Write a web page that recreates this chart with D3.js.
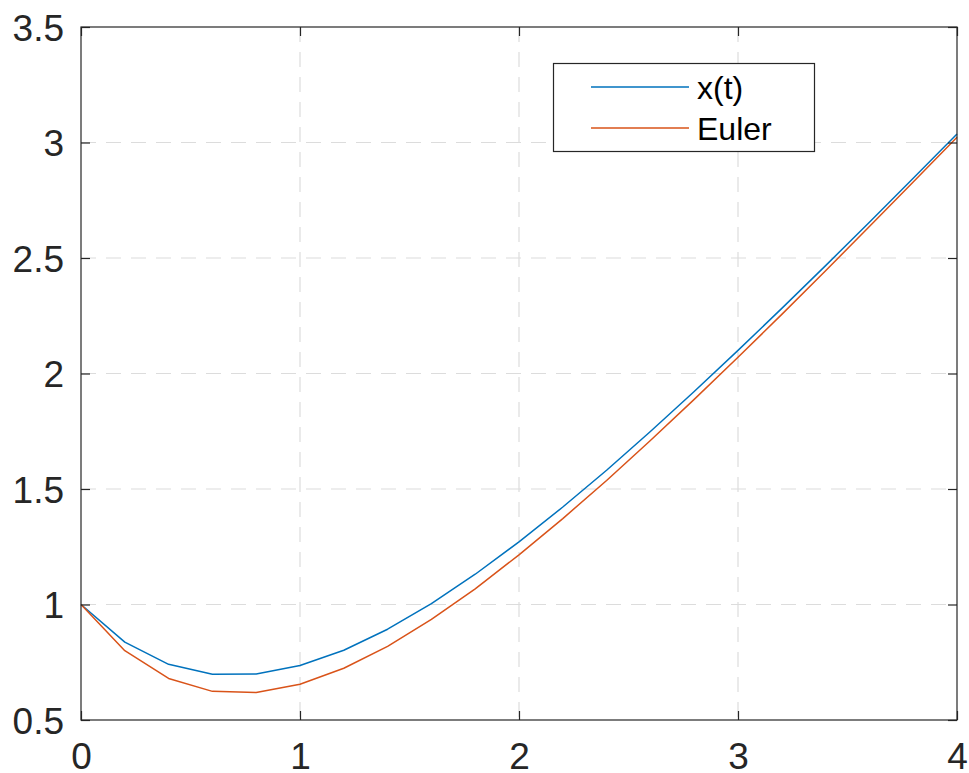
<!DOCTYPE html>
<html>
<head>
<meta charset="utf-8">
<script src="https://cdn.jsdelivr.net/npm/d3@7"></script>
<style>
  html, body { margin: 0; padding: 0; background: #fff; }
  svg { display: block; }
</style>
</head>
<body>
<svg id="chart" width="969" height="773"></svg>
<script>
// ---- data ----
const tValues = [0, 0.2, 0.4, 0.6, 0.8, 1.0, 1.2, 1.4, 1.6, 1.8, 2.0, 2.2, 2.4, 2.6, 2.8, 3.0, 3.2, 3.4, 3.6, 3.8, 4.0];
const exactValues = [1.000, 0.837, 0.741, 0.698, 0.699, 0.736, 0.802, 0.893, 1.004, 1.131, 1.271, 1.422, 1.581, 1.749, 1.922, 2.100, 2.282, 2.467, 2.655, 2.845, 3.037];
const eulerValues = [1.000, 0.800, 0.680, 0.624, 0.619, 0.655, 0.724, 0.819, 0.936, 1.068, 1.215, 1.372, 1.537, 1.710, 1.888, 2.070, 2.256, 2.445, 2.636, 2.829, 3.023];
const seriesNames = ["x(t)", "Euler"];
const xTicks = [0, 1, 2, 3, 4];
const yTicks = [0.5, 1, 1.5, 2, 2.5, 3, 3.5];
const yTickLabels = ["0.5", "1", "1.5", "2", "2.5", "3", "3.5"];

(function () {
const colors = ["#0072BD", "#D95319"];
const axisColor = "#262626";
const fontFamily = "'Liberation Sans', Arial, Helvetica, sans-serif";

const svg = d3.select("#chart");
const pL = 81, pR = 957, pT = 27, pB = 720;

const x = d3.scaleLinear().domain([0, 4]).range([pL, pR]);
const y = d3.scaleLinear().domain([0.5, 3.5]).range([pB, pT]);

// grid
const grid = svg.append("g");
grid.selectAll("line.vx").data(xTicks.slice(1, -1)).join("line")
  .attr("x1", d => x(d)).attr("x2", d => x(d))
  .attr("y1", pT).attr("y2", pB)
  .attr("stroke", "#dcdcdc").attr("stroke-width", 1.2)
  .attr("stroke-dasharray", "15,10");
grid.selectAll("line.hy").data(yTicks.slice(1, -1)).join("line")
  .attr("x1", pL).attr("x2", pR)
  .attr("y1", d => y(d)).attr("y2", d => y(d))
  .attr("stroke", "#dcdcdc").attr("stroke-width", 1.2)
  .attr("stroke-dasharray", "15,10");

// data lines
const line = d3.line().x(d => x(d[0])).y(d => y(d[1]));
[exactValues, eulerValues].forEach((vals, i) => {
  svg.append("path")
    .datum(tValues.map((t, j) => [t, vals[j]]))
    .attr("d", line)
    .attr("fill", "none")
    .attr("stroke", colors[i])
    .attr("stroke-width", 1.5)
    .attr("stroke-linejoin", "round");
});

// axes
function styleAxis(g) {
  g.select(".domain").remove();
  g.selectAll(".tick line").attr("stroke", axisColor).attr("stroke-width", 1.2);
  g.selectAll(".tick text").attr("fill", axisColor)
    .style("font-family", fontFamily).style("font-size", "37px");
}
svg.append("g").attr("transform", `translate(0,${pB})`)
  .call(d3.axisBottom(x).tickValues(xTicks).tickFormat(d3.format("d")).tickSizeInner(-9).tickSizeOuter(0).tickPadding(23))
  .call(styleAxis);
svg.append("g").attr("transform", `translate(0,${pT})`)
  .call(d3.axisTop(x).tickValues(xTicks).tickFormat("").tickSizeInner(-9).tickSizeOuter(0))
  .call(styleAxis);
svg.append("g").attr("transform", `translate(${pL},0)`)
  .call(d3.axisLeft(y).tickValues(yTicks).tickFormat((d, i) => yTickLabels[i]).tickSizeInner(-9).tickSizeOuter(0).tickPadding(17))
  .call(styleAxis)
  .call(g => g.selectAll(".tick text").attr("dy", "0.36em"));
svg.append("g").attr("transform", `translate(${pR},0)`)
  .call(d3.axisRight(y).tickValues(yTicks).tickFormat("").tickSizeInner(-9).tickSizeOuter(0))
  .call(styleAxis);

// box
svg.append("rect")
  .attr("x", pL).attr("y", pT)
  .attr("width", pR - pL).attr("height", pB - pT)
  .attr("fill", "none").attr("stroke", axisColor).attr("stroke-width", 1.2);

// legend
const legend = svg.append("g");
legend.append("rect")
  .attr("x", 553.5).attr("y", 63.5).attr("width", 261).attr("height", 88)
  .attr("fill", "#fff").attr("stroke", axisColor).attr("stroke-width", 1.2);
const legendY = [87, 128];
seriesNames.forEach((name, i) => {
  legend.append("line")
    .attr("x1", 591).attr("x2", 689)
    .attr("y1", legendY[i]).attr("y2", legendY[i])
    .attr("stroke", colors[i]).attr("stroke-width", 1.5);
  legend.append("text")
    .attr("x", 697).attr("y", legendY[i] + 11.5)
    .attr("fill", "#000")
    .style("font-family", fontFamily).style("font-size", "32px")
    .text(name);
});
})();
</script>
</body>
</html>
